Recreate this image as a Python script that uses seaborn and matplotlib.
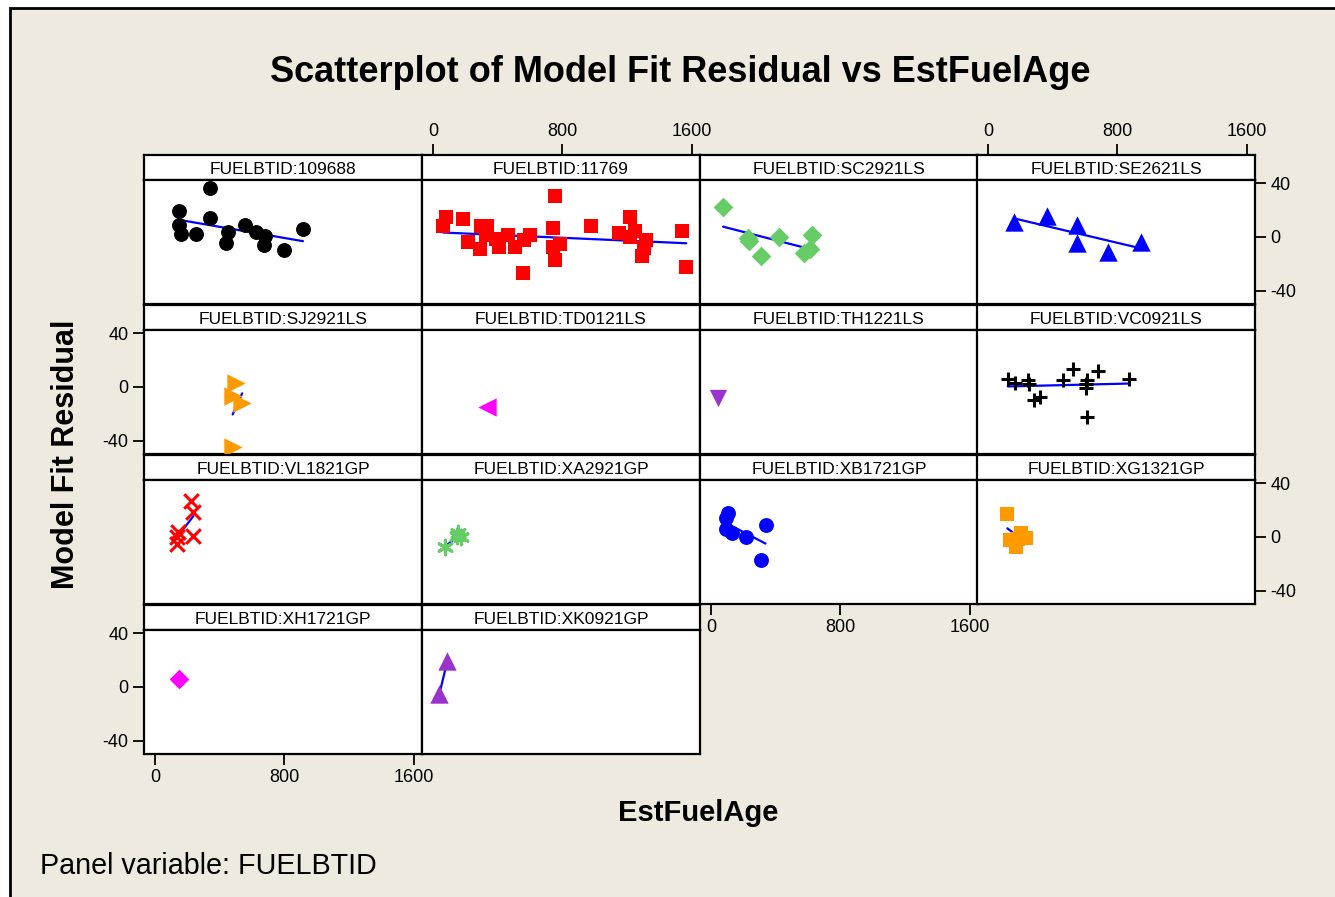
import matplotlib.pyplot as plt
import pandas as pd
import seaborn as sns
from matplotlib.patches import Rectangle

# panel ids, in the order Minitab lays them out (4 per row)
panel_ids = ['109688', '11769', 'SC2921LS', 'SE2621LS',
             'SJ2921LS', 'TD0121LS', 'TH1221LS', 'VC0921LS',
             'VL1821GP', 'XA2921GP', 'XB1721GP', 'XG1321GP',
             'XH1721GP', 'XK0921GP']

# EstFuelAge / Model Fit Residual
age_109688 = [339, 146, 146, 161, 250, 339, 450, 438, 554, 626, 680, 671, 799, 915]
res_109688 = [36.8, 19.5, 8.9, 2.2, 2.2, 14, 4, -4.7, 8.9, 4, 0.5, -5.7, -10, 6]

age_11769 = [77, 61, 187, 216, 292, 298, 331, 327, 387, 409, 465, 509, 564, 597, 553,
             752, 741, 741, 785, 752, 974, 1151, 1217, 1250, 1217, 1317, 1306, 1295, 1538, 1567]
res_11769 = [14.6, 8.4, 13.3, -4, -8.9, 8.4, 8, 1.5, -1.5, -7.6, 1.5, -7.6, -2, 1.5, -26.7,
             30.6, 6.4, -7.6, -5.2, -17.5, 7.9, 3, 14.6, 4.7, -0.2, -2, -8.4, -14.3, 4.7, -22.5]

age_SC2921LS = [73, 230, 236, 306, 420, 622, 572, 610]
res_SC2921LS = [22, -1, -2.7, -14.3, -0.2, 1.5, -11.9, -8.9]

age_SE2621LS = [159, 361, 551, 551, 741, 943]
res_SE2621LS = [10.9, 15.8, 8.9, -4.4, -11.4, -3.5]

age_SJ2921LS = [502, 479, 538, 479]
res_SJ2921LS = [3.2, -6.7, -11.6, -45]

age_TD0121LS = [330]
res_TD0121LS = [-15.3]

age_TH1221LS = [43]
res_TH1221LS = [-7.9]

age_VC0921LS = [121, 166, 247, 251, 285, 319, 465, 527, 612, 608, 608, 680, 871, 612]
res_VC0921LS = [5.7, 3.2, 5, 2.5, -9.9, -7.4, 5, 13.1, 5, 2, -0.5, 11.9, 5.7, -22.2]

age_VL1821GP = [222, 236, 141, 134, 134, 236]
res_VL1821GP = [26.9, 18.3, 3.9, -0.2, -5.2, 1]

age_XA2921GP = [73, 156, 169, 145]
res_XA2921GP = [-7.7, 3.2, -0.2, 0.7]

age_XB1721GP = [103, 91, 91, 131, 217, 336, 309]
res_XB1721GP = [18, 13.8, 5.7, 3.2, 0.2, 8.9, -17]

age_XG1321GP = [118, 203, 136, 232, 172, 184]
res_XG1321GP = [16.8, 2.7, -2.2, -1, -7.7, -1.7]

age_XH1721GP = [149]
res_XH1721GP = [5.7]

age_XK0921GP = [87, 38]
res_XK0921GP = [19.3, -5]

ages = [age_109688, age_11769, age_SC2921LS, age_SE2621LS, age_SJ2921LS, age_TD0121LS,
        age_TH1221LS, age_VC0921LS, age_VL1821GP, age_XA2921GP, age_XB1721GP,
        age_XG1321GP, age_XH1721GP, age_XK0921GP]
residuals = [res_109688, res_11769, res_SC2921LS, res_SE2621LS, res_SJ2921LS, res_TD0121LS,
             res_TH1221LS, res_VC0921LS, res_VL1821GP, res_XA2921GP, res_XB1721GP,
             res_XG1321GP, res_XH1721GP, res_XK0921GP]

rows = []
for pid, xs, ys in zip(panel_ids, ages, residuals):
    for x, y in zip(xs, ys):
        rows.append({'FUELBTID': pid, 'EstFuelAge': x, 'Residual': y})
df = pd.DataFrame(rows)

# Minitab default symbol / colour cycle
markers = ['o', 's', 'D', '^', '>', '<', 'v', '+', 'x', (6, 2, 0), 'o', 's', 'D', '^']
colors = ['#000000', '#FF0000', '#66CC66', '#0000FF', '#FF9900', '#FF00FF', '#9933CC',
          '#000000', '#FF0000', '#66CC66', '#0000FF', '#FF9900', '#FF00FF', '#9933CC']

sns.set_theme(style='white')
plt.rcParams['font.family'] = ['Liberation Sans', 'DejaVu Sans']
plt.rcParams['text.color'] = 'black'
plt.rcParams['axes.unicode_minus'] = False

W, H = 1335, 897
fig = plt.figure(figsize=(W / 100, H / 100), dpi=100)
fig.patch.set_facecolor('white')
fig.patches.append(Rectangle((10 / W, -0.05), 1.1, 1.05 - 8 / H, transform=fig.transFigure,
                             facecolor='#EEEAE0', edgecolor='black', lw=2, zorder=-5))


def px_axes(left, top, width, height):
    return fig.add_axes([left / W, 1 - (top + height) / H, width / W, height / H])


col_left = [144, 422, 700, 977]
col_w = 278
row_top = [155, 305, 455, 605]
strip_h = 25
plot_h = 124
xlim = (-70, 1652)
ylim = (-50, 42.5)

# which panels carry axis scales (Minitab alternates them)
x_top = {1, 3}
x_bottom = {12, 10}
y_left = {4, 12}
y_right = {3, 11}

tick_kw = dict(length=8, width=1.3, direction='out', color='black',
               labelcolor='black', labelsize=13, pad=3)

for i, pid in enumerate(panel_ids):
    r, c = divmod(i, 4)
    strip = px_axes(col_left[c], row_top[r], col_w, strip_h)
    strip.set_facecolor('white')
    strip.set_xlim(*xlim)
    strip.set_yticks([])
    if i in x_top:
        strip.set_xticks([0, 800, 1600])
        strip.tick_params(axis='x', top=True, labeltop=True, bottom=False,
                          labelbottom=False, **tick_kw)
    else:
        strip.set_xticks([])
    for sp in strip.spines.values():
        sp.set_color('black')
        sp.set_linewidth(1.6)
    strip.text(0.5, 0.42, f'FUELBTID:{pid}', ha='center', va='center', fontsize=12.5,
               transform=strip.transAxes)

    ax = px_axes(col_left[c], row_top[r] + strip_h, col_w, plot_h)
    ax.set_facecolor('white')
    sub = df[df['FUELBTID'] == pid]

    if len(sub) > 1:
        sns.regplot(data=sub, x='EstFuelAge', y='Residual', scatter=False, ci=None,
                    truncate=True, color='#0000FF', line_kws={'lw': 1.6, 'zorder': 2}, ax=ax)

    m = markers[i]
    if m in ('+', 'x') or isinstance(m, tuple):
        sns.scatterplot(data=sub, x='EstFuelAge', y='Residual', marker=m, color=colors[i],
                        s=110, linewidth=2.2, ax=ax, legend=False, zorder=3)
    else:
        size = {'o': 115, 's': 95, 'D': 100, '^': 175, '>': 175, '<': 175, 'v': 155}[m]
        sns.scatterplot(data=sub, x='EstFuelAge', y='Residual', marker=m, color=colors[i],
                        edgecolor=colors[i], linewidth=0, s=size, ax=ax, legend=False, zorder=3)

    ax.set_xlim(*xlim)
    ax.set_ylim(*ylim)
    ax.set_xticks([0, 800, 1600])
    ax.set_yticks([-40, 0, 40])
    ax.set_xlabel('')
    ax.set_ylabel('')
    for sp in ax.spines.values():
        sp.set_color('black')
        sp.set_linewidth(1.6)

    ax.tick_params(axis='both', which='both', length=0, labelbottom=False, labeltop=False,
                   labelleft=False, labelright=False, bottom=False, top=False,
                   left=False, right=False)
    if i in x_bottom:
        ax.tick_params(axis='x', bottom=True, labelbottom=True, **tick_kw)
    if i in y_left:
        ax.tick_params(axis='y', left=True, labelleft=True, **tick_kw)
    if i in y_right:
        ax.tick_params(axis='y', right=True, labelright=True, **tick_kw)

fig.text(680 / W, 1 - 73 / H, 'Scatterplot of Model Fit Residual vs EstFuelAge',
         ha='center', va='center', fontsize=26, fontweight='bold')
fig.text(66 / W, 1 - 454 / H, 'Model Fit Residual', ha='center', va='center',
         rotation=90, fontsize=22, fontweight='bold')
fig.text(698 / W, 1 - 813 / H, 'EstFuelAge', ha='center', va='center',
         fontsize=21, fontweight='bold')
fig.text(40 / W, 1 - 866 / H, 'Panel variable: FUELBTID', ha='left', va='center',
         fontsize=20.7)

fig.savefig('out.png', dpi=100)
